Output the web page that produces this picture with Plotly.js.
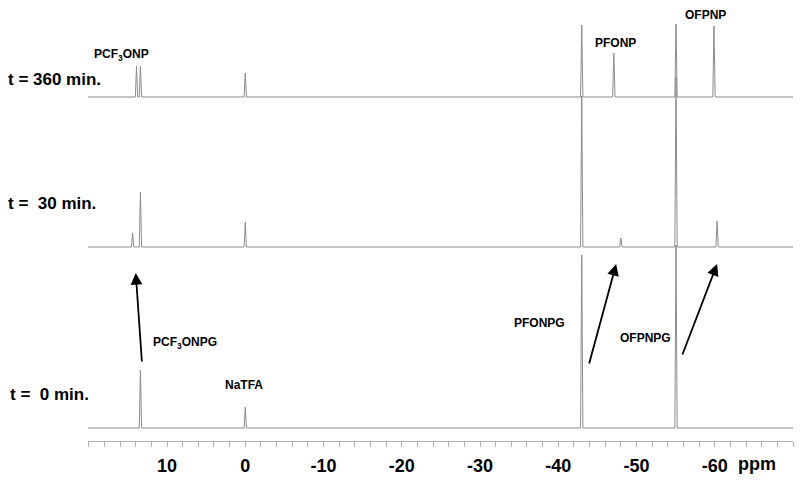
<!DOCTYPE html>
<html>
<head>
<meta charset="utf-8">
<script src="https://cdn.plot.ly/plotly-3.0.1.min.js"></script>
<style>
  body { margin: 0; background: #fff; }
  #chart { width: 800px; height: 480px; }
</style>
</head>
<body>
<div id="chart"></div>
<script>
// peak positions (ppm) and heights (arbitrary units)
var ppm0 = [13.4, 0, -43.0, -55.05];
var int0 = [58, 21, 173, 183];

var ppm30 = [14.4, 13.4, 0, -43.0, -48.0, -55.05, -60.3];
var int30 = [14, 55, 25, 151, 9, 170, 26];

var ppm360 = [13.9, 13.4, 0, -43.0, -47.1, -55.05, -59.9];
var int360 = [31, 31, 24, 72, 44, 73, 71];

var spectraNames = ["t =  0 min.", "t =  30 min.", "t = 360 min."];
var tickVals = [10, 0, -10, -20, -30, -40, -50, -60];

var xLeft = 20.1, xRight = -70.0;
var halfWidth = 0.15;
var baselines = [13, 194, 344];

function spectrum(pos, ints, base) {
  var x = [xLeft], y = [base];
  for (var i = 0; i < pos.length; i++) {
    x.push(pos[i] + halfWidth, pos[i], pos[i] - halfWidth);
    y.push(base, base + ints[i], base);
  }
  x.push(xRight);
  y.push(base);
  return {x: x, y: y, type: "scatter", mode: "lines",
          line: {color: "#8c8c8c", width: 1}, hoverinfo: "skip", showlegend: false};
}

var data = [
  spectrum(ppm0, int0, baselines[0]),
  spectrum(ppm30, int30, baselines[1]),
  spectrum(ppm360, int360, baselines[2])
];

// pixel helpers for the paper-positioned labels
var L = 88, W = 705, H = 441;
function px(x) { return (x - L) / W; }
function py(y) { return (H - y) / H; }

var bigFont = {family: "Arial, Liberation Sans, sans-serif", size: 17, color: "#000"};
var smallFont = {family: "Arial, Liberation Sans, sans-serif", size: 12, color: "#000"};

function label(text, x, y, font, anchor) {
  return {text: "<b>" + text + "</b>", xref: "paper", yref: "paper",
          x: px(x), y: py(y), xanchor: anchor || "center", yanchor: "middle",
          showarrow: false, font: font};
}

function arrow(x0, y0, x1, y1) {
  return {xref: "x", yref: "y", axref: "x", ayref: "y",
          x: x1, y: y1, ax: x0, ay: y0, text: "", showarrow: true,
          arrowhead: 2, arrowsize: 1.3, arrowwidth: 1.8, arrowcolor: "#000"};
}

var annotations = [
  label(spectraNames[2], 6, 79, bigFont, "left"),
  label(spectraNames[1], 6, 203, bigFont, "left"),
  label(spectraNames[0], 8, 394, bigFont, "left"),
  label("PCF<sub>3</sub>ONP", 92, 55, smallFont, "left"),
  label("PFONP", 615, 43, smallFont),
  label("OFPNP", 705, 15, smallFont),
  label("PCF<sub>3</sub>ONPG", 151, 343, smallFont, "left"),
  label("NaTFA", 244, 385, smallFont),
  label("PFONPG", 539, 323, smallFont),
  label("OFPNPG", 645, 338, smallFont),
  label("ppm", 736, 464, {family: "Arial, Liberation Sans, sans-serif", size: 18, color: "#000"}, "left"),
  arrow(13.2, 78, 14.0, 168),
  arrow(-43.9, 76, -47.4, 177),
  arrow(-55.8, 85, -60.3, 177)
];

var layout = {
  width: 800, height: 480,
  margin: {l: L, r: 800 - L - W, t: 0, b: 480 - H},
  paper_bgcolor: "#fff", plot_bgcolor: "#fff",
  showlegend: false,
  xaxis: {
    range: [xLeft, xRight],
    showgrid: false, zeroline: false,
    showline: true, linecolor: "#b0b0b0", linewidth: 1,
    tickmode: "array", tickvals: tickVals,
    ticktext: tickVals.map(function (v) { return "<b>" + v + "</b>"; }),
    ticks: "outside", ticklen: 5, tickcolor: "#b0b0b0",
    ticklabelstandoff: 3,
    tickfont: {family: "Arial, Liberation Sans, sans-serif", size: 18, color: "#000"},
    minor: {tickmode: "linear", tick0: 0, dtick: 2, ticks: "outside", ticklen: 5, tickcolor: "#b0b0b0"}
  },
  yaxis: {range: [0, H], visible: false, fixedrange: true},
  annotations: annotations
};

Plotly.newPlot("chart", data, layout, {staticPlot: true});
</script>
</body>
</html>
